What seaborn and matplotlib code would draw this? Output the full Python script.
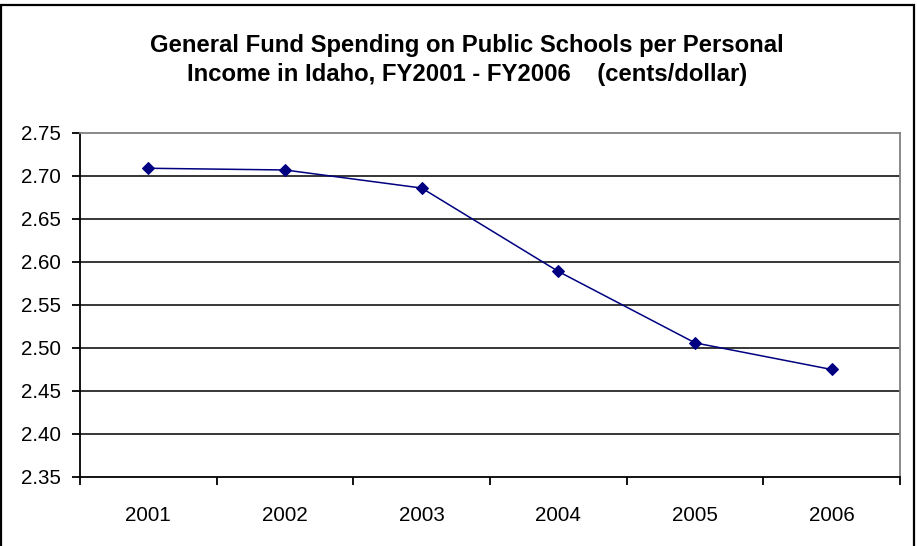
import matplotlib
matplotlib.use("Agg")
import matplotlib.pyplot as plt
import seaborn as sns
import pandas as pd
from matplotlib.patches import Rectangle
from matplotlib.ticker import FixedLocator, MultipleLocator

years = ["2001", "2002", "2003", "2004", "2005", "2006"]
values = [2.709, 2.707, 2.686, 2.589, 2.506, 2.475]
title_text = "General Fund Spending on Public Schools per Personal\nIncome in Idaho, FY2001 - FY2006    (cents/dollar)"

sns.set_theme(style="white")
plt.rcParams["font.family"] = ["Liberation Sans", "DejaVu Sans"]
plt.rcParams["text.color"] = "black"

df = pd.DataFrame({"year": years, "value": values})

fig = plt.figure(figsize=(9.17, 5.46), dpi=100)
ax = fig.add_axes([80/917, 1-477/546, (900-80)/917, (477-133)/546])

sns.lineplot(data=df, x="year", y="value", ax=ax, sort=False, color="#000080",
             linewidth=1.1, marker="D", markersize=6.5, markeredgecolor="#000080",
             markerfacecolor="#000080")

ax.set_xlim(-0.5, len(years) - 0.5)
ax.set_ylim(2.35, 2.75)
ax.yaxis.set_major_locator(MultipleLocator(0.05))
ax.set_yticklabels([f"{v:.2f}" for v in ax.get_yticks()])
ax.set_xticks(range(len(years)))
ax.set_xticklabels(years)
ax.xaxis.set_minor_locator(FixedLocator([i - 0.5 for i in range(len(years) + 1)]))
ax.tick_params(axis="x", which="major", length=0, pad=21, labelsize=14.8, colors="black")
ax.tick_params(axis="x", which="minor", length=6, width=1.3, direction="out", color="black", bottom=True)
ax.tick_params(axis="y", which="major", length=6, width=1.3, direction="out", pad=8,
               labelsize=14.8, colors="black", left=True)

ax.set_xlabel("")
ax.set_ylabel("")
ax.grid(False)
for yv in [2.40, 2.45, 2.50, 2.55, 2.60, 2.65, 2.70]:
    ax.axhline(yv, color="black", linewidth=1.1, zorder=1)

for s in ["left", "bottom"]:
    ax.spines[s].set_color("black")
    ax.spines[s].set_linewidth(1.3)
for s in ["top", "right"]:
    ax.spines[s].set_color("#808080")
    ax.spines[s].set_linewidth(1.3)

fig.text(467/917, 1-60/546, title_text, ha="center", va="center", fontsize=17.2,
         fontweight="bold", linespacing=1.38, color="black")

fig.patches.append(Rectangle((1/917, -0.05), 913/917, 1.05 - 5.5/546, transform=fig.transFigure,
                             fill=False, edgecolor="black", linewidth=1.6))

fig.savefig("out.png", dpi=100)
